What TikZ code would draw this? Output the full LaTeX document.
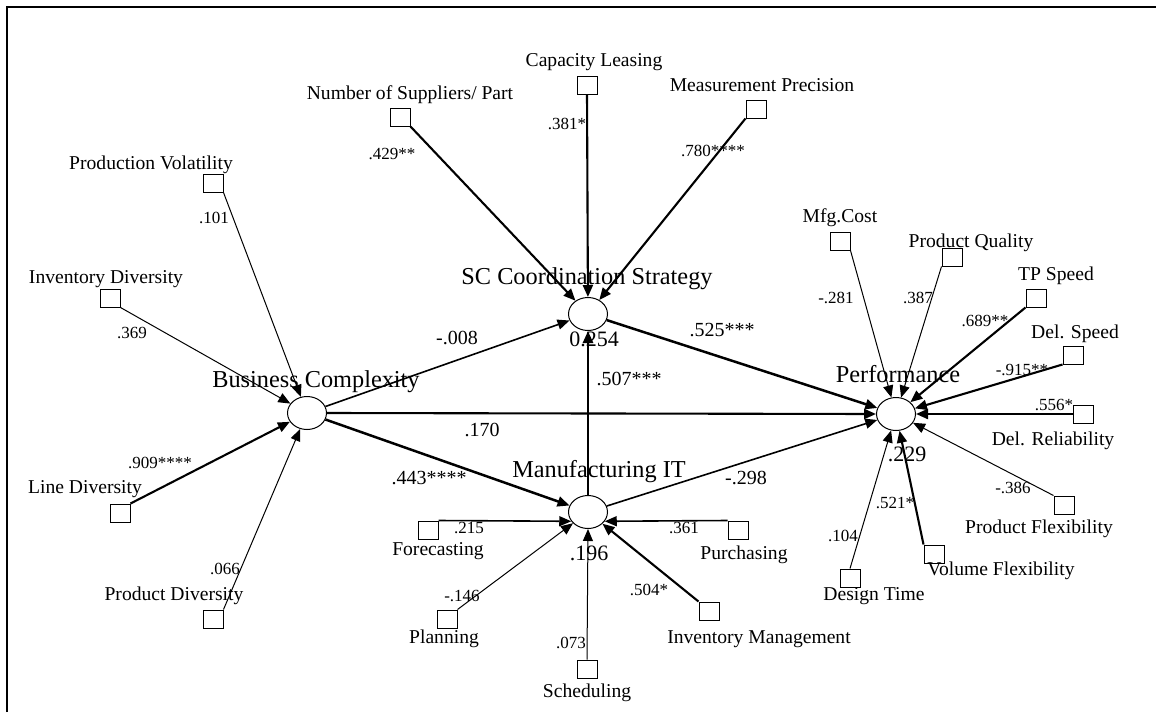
\documentclass[tikz,border=0pt]{standalone}
\usepackage{fontspec}
\setmainfont{Liberation Serif}
\usetikzlibrary{arrows.meta,shapes.geometric}
\begin{document}
\begin{tikzpicture}[x=1pt,y=-1pt,
  mv/.style={draw,line width=1pt,rectangle,minimum width=20pt,minimum height=18pt,inner sep=0pt},
  lv/.style={draw,line width=1pt,ellipse,minimum width=39pt,minimum height=33pt,inner sep=0pt},
  lbl/.style={inner sep=0pt,text height=.68em,text depth=.22em,font=\fontsize{19.6}{21}\selectfont},
  big/.style={inner sep=0pt,text height=.68em,text depth=.22em,font=\fontsize{24.3}{26}\selectfont},
  coef/.style={inner sep=0pt,text height=.68em,text depth=.22em,font=\fontsize{17}{18}\selectfont},
  pcoef/.style={inner sep=0pt,text height=.68em,text depth=.22em,font=\fontsize{20}{22}\selectfont},
  rsq/.style={inner sep=0pt,text height=.68em,text depth=.22em,font=\fontsize{22}{24}\selectfont},
  arr/.style={-{Triangle[length=12pt,width=10pt]}},
  lwa/.style={arr,line width=1pt},
  lwb/.style={arr,line width=1.6pt},
  lwc/.style={arr,line width=2.1pt},
  lwd/.style={arr,line width=2.5pt},
]
\useasboundingbox (0,0) rectangle (1156,712);
\fill[white] (0,0) rectangle (1156,712);
\coordinate (fbl) at (7,712);
\coordinate (ftl) at (7,7);
\coordinate (ftr) at (1156,7);
\draw[line width=2pt] (fbl) -- (ftl) -- (ftr);

% latent variables
\node[lv] (bc) at (307,413) {};
\node[lv] (sc) at (588,314) {};
\node[lv] (mit) at (588,512) {};
\node[lv] (perf) at (896,414) {};

\node[big] (bcl) at (316,385) {Business Complexity};
\node[big] (scl) at (587,282) {SC Coordination Strategy};
\node[big] (mitl) at (599,475) {Manufacturing IT};
\node[big] (perfl) at (898,380) {Performance};

\node[rsq] (scr) at (594,344) {0.254};
\node[rsq] (mitr) at (589,558) {.196};
\node[rsq] (perfr) at (907,459) {.229};

% manifest variables
\node[mv] (pv) at (213,183) {};
\node[mv] (ns) at (400,117) {};
\node[mv] (cl) at (587,85) {};
\node[mv] (mp) at (756,109) {};
\node[mv] (id) at (110,298) {};
\node[mv] (ld) at (120,513) {};
\node[mv] (pd) at (213,619) {};
\node[mv] (mc) at (840,241) {};
\node[mv] (pq) at (952,257) {};
\node[mv] (tp) at (1036,298) {};
\node[mv] (ds) at (1073,355) {};
\node[mv] (dr) at (1083,414) {};
\node[mv] (pf) at (1064,505) {};
\node[mv] (vf) at (934,554) {};
\node[mv] (dt) at (850,578) {};
\node[mv] (fc) at (428,530) {};
\node[mv] (pu) at (738,530) {};
\node[mv] (pl) at (447,619) {};
\node[mv] (sch) at (587,669) {};
\node[mv] (im) at (709,611) {};

\node[lbl] (pvl) at (151,167) {Production Volatility};
\node[lbl] (nsl) at (410,97) {Number of Suppliers/ Part};
\node[lbl] (cll) at (594,64) {Capacity Leasing};
\node[lbl] (mpl) at (762,89) {Measurement Precision};
\node[lbl] (idl) at (106,281) {Inventory Diversity};
\node[lbl] (ldl) at (85,491) {Line Diversity};
\node[lbl] (pdl) at (174,598) {Product Diversity};
\node[lbl] (mcl) at (840,220) {Mfg.Cost};
\node[lbl] (pql) at (971,245) {Product Quality};
\node[lbl] (tpl) at (1056,278) {TP Speed};
\node[lbl] (dsl) at (1075,336) {Del. Speed};
\node[lbl] (drl) at (1053,443) {Del. Reliability};
\node[lbl] (pfl) at (1039,531) {Product Flexibility};
\node[lbl] (vfl) at (1001,573) {Volume Flexibility};
\node[lbl] (dtl) at (874,598) {Design Time};
\node[lbl] (fcl) at (438,553) {Forecasting};
\node[lbl] (pul) at (744,557) {Purchasing};
\node[lbl] (pll) at (444,641) {Planning};
\node[lbl] (schl) at (587,695) {Scheduling};
\node[lbl] (iml) at (759,641) {Inventory Management};

% connectors
\draw[lwa] (pv.south east) -- (bc);
\draw[lwc] (ns.south east) -- (sc);
\draw[lwc] (cl.south) -- (sc);
\draw[lwc] (mp.south west) -- (sc);
\draw[lwa] (id.south east) -- (bc);
\draw[lwc] (ld.north east) -- (bc);
\draw[lwa] (pd.north east) -- (bc);

\draw[lwb] (bc) -- (sc);
\draw[lwc] (bc.east) -- (perf.west);
\draw[lwd] (bc) -- (mit);
\draw[lwd] (mit.north) -- (sc.south);
\draw[lwd] (sc) -- (perf);
\draw[lwb] (mit) -- (perf);

\draw[lwb] (fc.north east) -- (mit.209);
\draw[lwb] (pu.north west) -- (mit.331);
\draw[lwa] (pl.north east) -- (mit);
\draw[lwa] (sch.north) -- (mit.south);
\draw[lwc] (im.north west) -- (mit);

\draw[lwa] (mc.south east) -- (perf);
\draw[lwa] (pq.south west) -- (perf);
\draw[lwc] (tp.south west) -- (perf);
\draw[lwc] (ds.south west) -- (perf);
\draw[lwc] (dr.west) -- (perf.east);
\draw[lwa] (pf.north west) -- (perf);
\draw[lwc] (vf.north west) -- (perf);
\draw[lwa] (dt.north) -- (perf);

% coefficients
\node[coef] (c1) at (214,221) {.101};
\node[coef] (c2) at (392,157) {.429**};
\node[coef] (c3) at (567,127) {.381*};
\node[coef] (c4) at (713,154) {.780****};
\node[coef] (c5) at (132,336) {.369};
\node[coef] (c6) at (160,466) {.909****};
\node[coef] (c7) at (225,572) {.066};
\node[coef] (c8) at (836,301) {-.281};
\node[coef] (c9) at (918,301) {.387};
\node[coef] (c10) at (985,324) {.689**};
\node[coef] (c11) at (1022,373) {-.915**};
\node[coef] (c12) at (1054,408) {.556*};
\node[coef] (c13) at (1013,491) {-.386};
\node[coef] (c14) at (895,506) {.521*};
\node[coef] (c15) at (843,539) {.104};
\node[coef] (c16) at (469,531) {.215};
\node[coef] (c17) at (684,531) {.361};
\node[coef] (c18) at (462,599) {-.146};
\node[coef] (c19) at (649,593) {.504*};
\node[coef] (c20) at (571,646) {.073};

\node[pcoef] (p1) at (457,342) {-.008};
\node[pcoef] (p2) at (722,334) {.525***};
\node[pcoef] (p3) at (629,383) {.507***};
\node[pcoef] (p4) at (482,434) {.170};
\node[pcoef] (p5) at (429,482) {.443****};
\node[pcoef] (p6) at (746,482) {-.298};
\end{tikzpicture}
\end{document}
